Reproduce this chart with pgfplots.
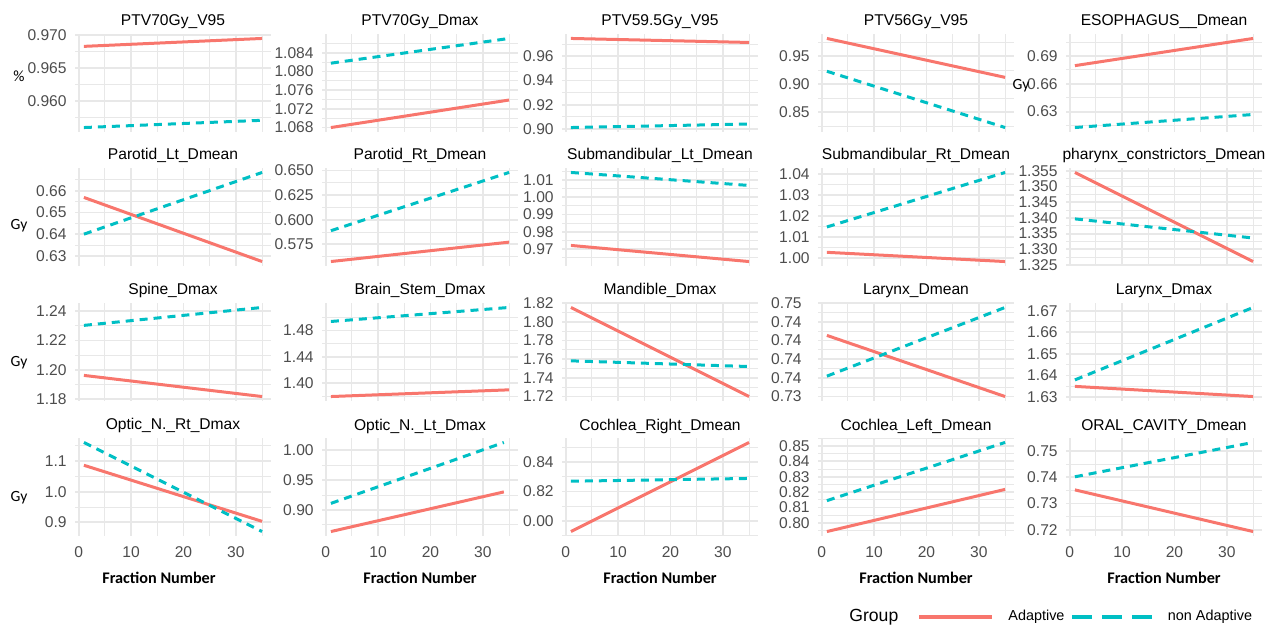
\documentclass[border=0pt]{standalone}
\usepackage{pgfplots}
\pgfplotsset{compat=1.18}
\usepackage{fontspec}
\setmainfont{Liberation Sans}
\newfontfamily\carl{Carlito}
\definecolor{adapt}{HTML}{F8766D}
\definecolor{nonad}{HTML}{00BFC4}
\definecolor{gridc}{HTML}{E8E8E8}
\definecolor{tickc}{HTML}{4D4D4D}
\newcommand\tfont{\fontsize{7.8}{9}\selectfont}
\newcommand\lfont{\fontsize{7.2}{8}\selectfont}
\pgfplotsset{
  pan/.style={
    scale only axis, width=98pt, height=49pt, anchor=north west,
    xmin=-0.7, xmax=36.7, xtick={0,10,20,30}, minor xtick={5,15,25,35},
    xticklabels={}, enlarge y limits=0.05,
    axis line style={draw=none}, tick style={draw=none},
    grid=both,
    major grid style={color=gridc, line width=0.9pt},
    minor grid style={color=gridc, line width=0.5pt},
    tick label style={font=\tfont, text=tickc},
    yticklabel style={inner sep=0pt, xshift=-4pt},
    xticklabel style={inner sep=0pt, yshift=-5pt},
    title style={font=\tfont, text=black, anchor=base, inner sep=0pt, yshift=-2pt},
    ylabel style={font=\carl\fontsize{7.8}{9}\selectfont, rotate=-90, anchor=center, xshift=-28pt},
    xlabel style={font=\carl\bfseries\fontsize{8.1}{9}\selectfont, at={(axis description cs:0.5,0)}, anchor=center, yshift=-20.8pt},
  },
  adp/.style={draw=adapt, line width=1.5pt, no marks},
  nad/.style={draw=nonad, line width=1.5pt, dash pattern=on 4pt off 3pt, no marks},
}
\begin{document}
\begin{tikzpicture}
\useasboundingbox (0,0) rectangle (633pt,-313pt);

% ---- row 1
\begin{axis}[pan, at={(37.5pt,-17pt)}, title={PTV70Gy\_V95},
  ytick={0.960,0.965,0.970}, yticklabels={0.960,0.965,0.970},
  minor ytick={0.9575,0.9625,0.9675},
  ylabel={\%}, ylabel style={at={(axis description cs:0,0.571)}}]
\addplot[adp] coordinates {(1,0.9683) (35,0.9695)};
\addplot[nad] coordinates {(1,0.9560) (35,0.9571)};
\end{axis}

\begin{axis}[pan, at={(161pt,-17pt)}, title={PTV70Gy\_Dmax},
  ytick={1.068,1.072,1.076,1.080,1.084}, yticklabels={1.068,1.072,1.076,1.080,1.084},
  minor ytick={1.070,1.074,1.078,1.082,1.086}]
\addplot[adp] coordinates {(1,1.0680) (35,1.0739)};
\addplot[nad] coordinates {(1,1.0818) (35,1.0871)};
\end{axis}

\begin{axis}[pan, at={(281pt,-17pt)}, title={PTV59.5Gy\_V95},
  ytick={0.90,0.92,0.94,0.96}, yticklabels={0.90,0.92,0.94,0.96},
  minor ytick={0.91,0.93,0.95,0.97}]
\addplot[adp] coordinates {(1,0.9747) (35,0.9714)};
\addplot[nad] coordinates {(1,0.9013) (35,0.9042)};
\end{axis}

\begin{axis}[pan, at={(409pt,-17pt)}, title={PTV56Gy\_V95},
  ytick={0.85,0.90,0.95}, yticklabels={0.85,0.90,0.95},
  minor ytick={0.825,0.875,0.925,0.975}]
\addplot[adp] coordinates {(1,0.9820) (35,0.9124)};
\addplot[nad] coordinates {(1,0.9233) (35,0.8227)};
\end{axis}

\begin{axis}[pan, at={(533pt,-17pt)}, title={ESOPHAGUS\_\_Dmean},
  ytick={0.63,0.66,0.69}, yticklabels={0.63,0.66,0.69},
  minor ytick={0.615,0.645,0.675,0.705},
  ylabel={Gy}, ylabel style={at={(axis description cs:0,0.47)}, xshift=5.5pt}]
\addplot[adp] coordinates {(1,0.6797) (35,0.7091)};
\addplot[nad] coordinates {(1,0.6128) (35,0.6269)};
\end{axis}

% ---- row 2
\begin{axis}[pan, at={(37.5pt,-84pt)}, title={Parotid\_Lt\_Dmean},
  ytick={0.63,0.64,0.65,0.66}, yticklabels={0.63,0.64,0.65,0.66},
  minor ytick={0.635,0.645,0.655,0.665},
  ylabel={Gy}, ylabel style={at={(axis description cs:0,0.408)}}]
\addplot[adp] coordinates {(1,0.6569) (35,0.6274)};
\addplot[nad] coordinates {(1,0.6400) (35,0.6684)};
\end{axis}

\begin{axis}[pan, at={(161pt,-84pt)}, title={Parotid\_Rt\_Dmean},
  ytick={0.575,0.600,0.625,0.650}, yticklabels={0.575,0.600,0.625,0.650},
  minor ytick={0.5625,0.5875,0.6125,0.6375}]
\addplot[adp] coordinates {(1,0.5576) (35,0.5773)};
\addplot[nad] coordinates {(1,0.5889) (35,0.6480)};
\end{axis}

\begin{axis}[pan, at={(281pt,-84pt)}, title={Submandibular\_Lt\_Dmean},
  ytick={0.97,0.98,0.99,1.00,1.01}, yticklabels={0.97,0.98,0.99,1.00,1.01},
  minor ytick={0.965,0.975,0.985,0.995,1.005,1.015}]
\addplot[adp] coordinates {(1,0.9721) (35,0.9628)};
\addplot[nad] coordinates {(1,1.0142) (35,1.0067)};
\end{axis}

\begin{axis}[pan, at={(409pt,-84pt)}, title={Submandibular\_Rt\_Dmean},
  ytick={1.00,1.01,1.02,1.03,1.04}, yticklabels={1.00,1.01,1.02,1.03,1.04},
  minor ytick={1.005,1.015,1.025,1.035}]
\addplot[adp] coordinates {(1,1.0027) (35,0.9983)};
\addplot[nad] coordinates {(1,1.0148) (35,1.0408)};
\end{axis}

\begin{axis}[pan, at={(533pt,-84pt)}, title={pharynx\_constrictors\_Dmean},
  ytick={1.325,1.330,1.335,1.340,1.345,1.350,1.355},
  yticklabels={1.325,1.330,1.335,1.340,1.345,1.350,1.355},
  minor ytick={1.3275,1.3325,1.3375,1.3425,1.3475,1.3525}]
\addplot[adp] coordinates {(1,1.3545) (35,1.3261)};
\addplot[nad] coordinates {(1,1.3397) (35,1.3336)};
\end{axis}

% ---- row 3
\begin{axis}[pan, at={(37.5pt,-151.5pt)}, title={Spine\_Dmax},
  ytick={1.18,1.20,1.22,1.24}, yticklabels={1.18,1.20,1.22,1.24},
  minor ytick={1.19,1.21,1.23},
  ylabel={Gy}, ylabel style={at={(axis description cs:0,0.388)}}]
\addplot[adp] coordinates {(1,1.1961) (35,1.1816)};
\addplot[nad] coordinates {(1,1.2304) (35,1.2427)};
\end{axis}

\begin{axis}[pan, at={(161pt,-151.5pt)}, title={Brain\_Stem\_Dmax},
  ytick={1.40,1.44,1.48}, yticklabels={1.40,1.44,1.48},
  minor ytick={1.38,1.42,1.46,1.50}]
\addplot[adp] coordinates {(1,1.3796) (35,1.3898)};
\addplot[nad] coordinates {(1,1.4937) (35,1.5150)};
\end{axis}

\begin{axis}[pan, at={(281pt,-151.5pt)}, title={Mandible\_Dmax},
  ytick={1.72,1.74,1.76,1.78,1.80,1.82}, yticklabels={1.72,1.74,1.76,1.78,1.80,1.82},
  minor ytick={1.73,1.75,1.77,1.79,1.81}]
\addplot[adp] coordinates {(1,1.8153) (35,1.7200)};
\addplot[nad] coordinates {(1,1.7582) (35,1.7521)};
\end{axis}

\begin{axis}[pan, at={(409pt,-151.5pt)}, title={Larynx\_Dmean},
  ytick={0.7375,0.7400,0.7425,0.7450,0.7475,0.7500},
  yticklabels={0.73,0.74,0.74,0.74,0.74,0.75},
  yticklabel style={xshift=-4pt},
  minor ytick={0.73875,0.74125,0.74375,0.74625,0.74875}]
\addplot[adp] coordinates {(1,0.74568) (35,0.7375)};
\addplot[nad] coordinates {(1,0.74023) (35,0.74942)};
\end{axis}

\begin{axis}[pan, at={(533pt,-151.5pt)}, title={Larynx\_Dmax},
  ytick={1.63,1.64,1.65,1.66,1.67}, yticklabels={1.63,1.64,1.65,1.66,1.67},
  minor ytick={1.635,1.645,1.655,1.665}]
\addplot[adp] coordinates {(1,1.6350) (35,1.6303)};
\addplot[nad] coordinates {(1,1.6380) (35,1.6715)};
\end{axis}

% ---- row 4
\begin{axis}[pan, at={(37.5pt,-219pt)}, title={Optic\_N.\_Rt\_Dmax},
  ytick={0.9,1.0,1.1}, yticklabels={0.9,1.0,1.1},
  minor ytick={0.95,1.05,1.15},
  xticklabels={0,10,20,30}, xlabel={Fraction Number}, xlabel style={xshift=-7pt},
  ylabel={Gy}, ylabel style={at={(axis description cs:0,0.388)}}]
\addplot[adp] coordinates {(1,1.0867) (35,0.9033)};
\addplot[nad] coordinates {(1,1.1613) (35,0.8700)};
\end{axis}

\begin{axis}[pan, at={(161pt,-219pt)}, title={Optic\_N.\_Lt\_Dmax},
  ytick={0.90,0.95,1.00}, yticklabels={0.90,0.95,1.00},
  minor ytick={0.875,0.925,0.975},
  xticklabels={0,10,20,30}, xlabel={Fraction Number}]
\addplot[adp] coordinates {(1,0.8640) (34,0.9303)};
\addplot[nad] coordinates {(1,0.9111) (34,1.0130)};
\end{axis}

\begin{axis}[pan, at={(281pt,-219pt)}, title={Cochlea\_Right\_Dmean},
  ytick={0.80,0.82,0.84}, yticklabels={0.00,0.82,0.84},
  minor ytick={0.79,0.81,0.83,0.85},
  xticklabels={0,10,20,30}, xlabel={Fraction Number}]
\addplot[adp] coordinates {(1,0.7926) (35,0.8535)};
\addplot[nad] coordinates {(1,0.8270) (35,0.8289)};
\end{axis}

\begin{axis}[pan, at={(409pt,-219pt)}, title={Cochlea\_Left\_Dmean},
  ytick={0.80,0.81,0.82,0.83,0.84,0.85}, yticklabels={0.80,0.81,0.82,0.83,0.84,0.85},
  minor ytick={0.795,0.805,0.815,0.825,0.835,0.845,0.855},
  xticklabels={0,10,20,30}, xlabel={Fraction Number}]
\addplot[adp] coordinates {(1,0.7944) (35,0.8218)};
\addplot[nad] coordinates {(1,0.8145) (35,0.8523)};
\end{axis}

\begin{axis}[pan, at={(533pt,-219pt)}, title={ORAL\_CAVITY\_Dmean},
  ytick={0.72,0.73,0.74,0.75}, yticklabels={0.72,0.73,0.74,0.75},
  minor ytick={0.725,0.735,0.745},
  xticklabels={0,10,20,30}, xlabel={Fraction Number},
  legend columns=-1,
  legend style={at={(-0.760,-0.827)}, anchor=west, draw=none, fill=none,
    inner sep=0pt, font=\lfont, nodes={inner sep=0pt},
    /tikz/every odd column/.append style={column sep=7pt},
    /tikz/every even column/.append style={column sep=0pt}}]
\addplot[adp, legend image code/.code={\draw[adapt, line width=2pt] (0pt,0pt) -- (36.5pt,0pt);}]
  coordinates {(1,0.7352) (35,0.7193)};
\addlegendentry{Adaptive}
\addplot[nad, legend image code/.code={\path (0pt,0pt); \draw[nonad, line width=2pt, dash pattern=on 10pt off 5pt] (3pt,0pt) -- (43pt,0pt);}]
  coordinates {(1,0.7402) (35,0.7533)};
\addlegendentry{non Adaptive}
\end{axis}

\node[anchor=west, inner sep=0pt, font=\fontsize{8.8}{10}\selectfont] at (424.5pt,-308.5pt) {Group};
\end{tikzpicture}
\end{document}
